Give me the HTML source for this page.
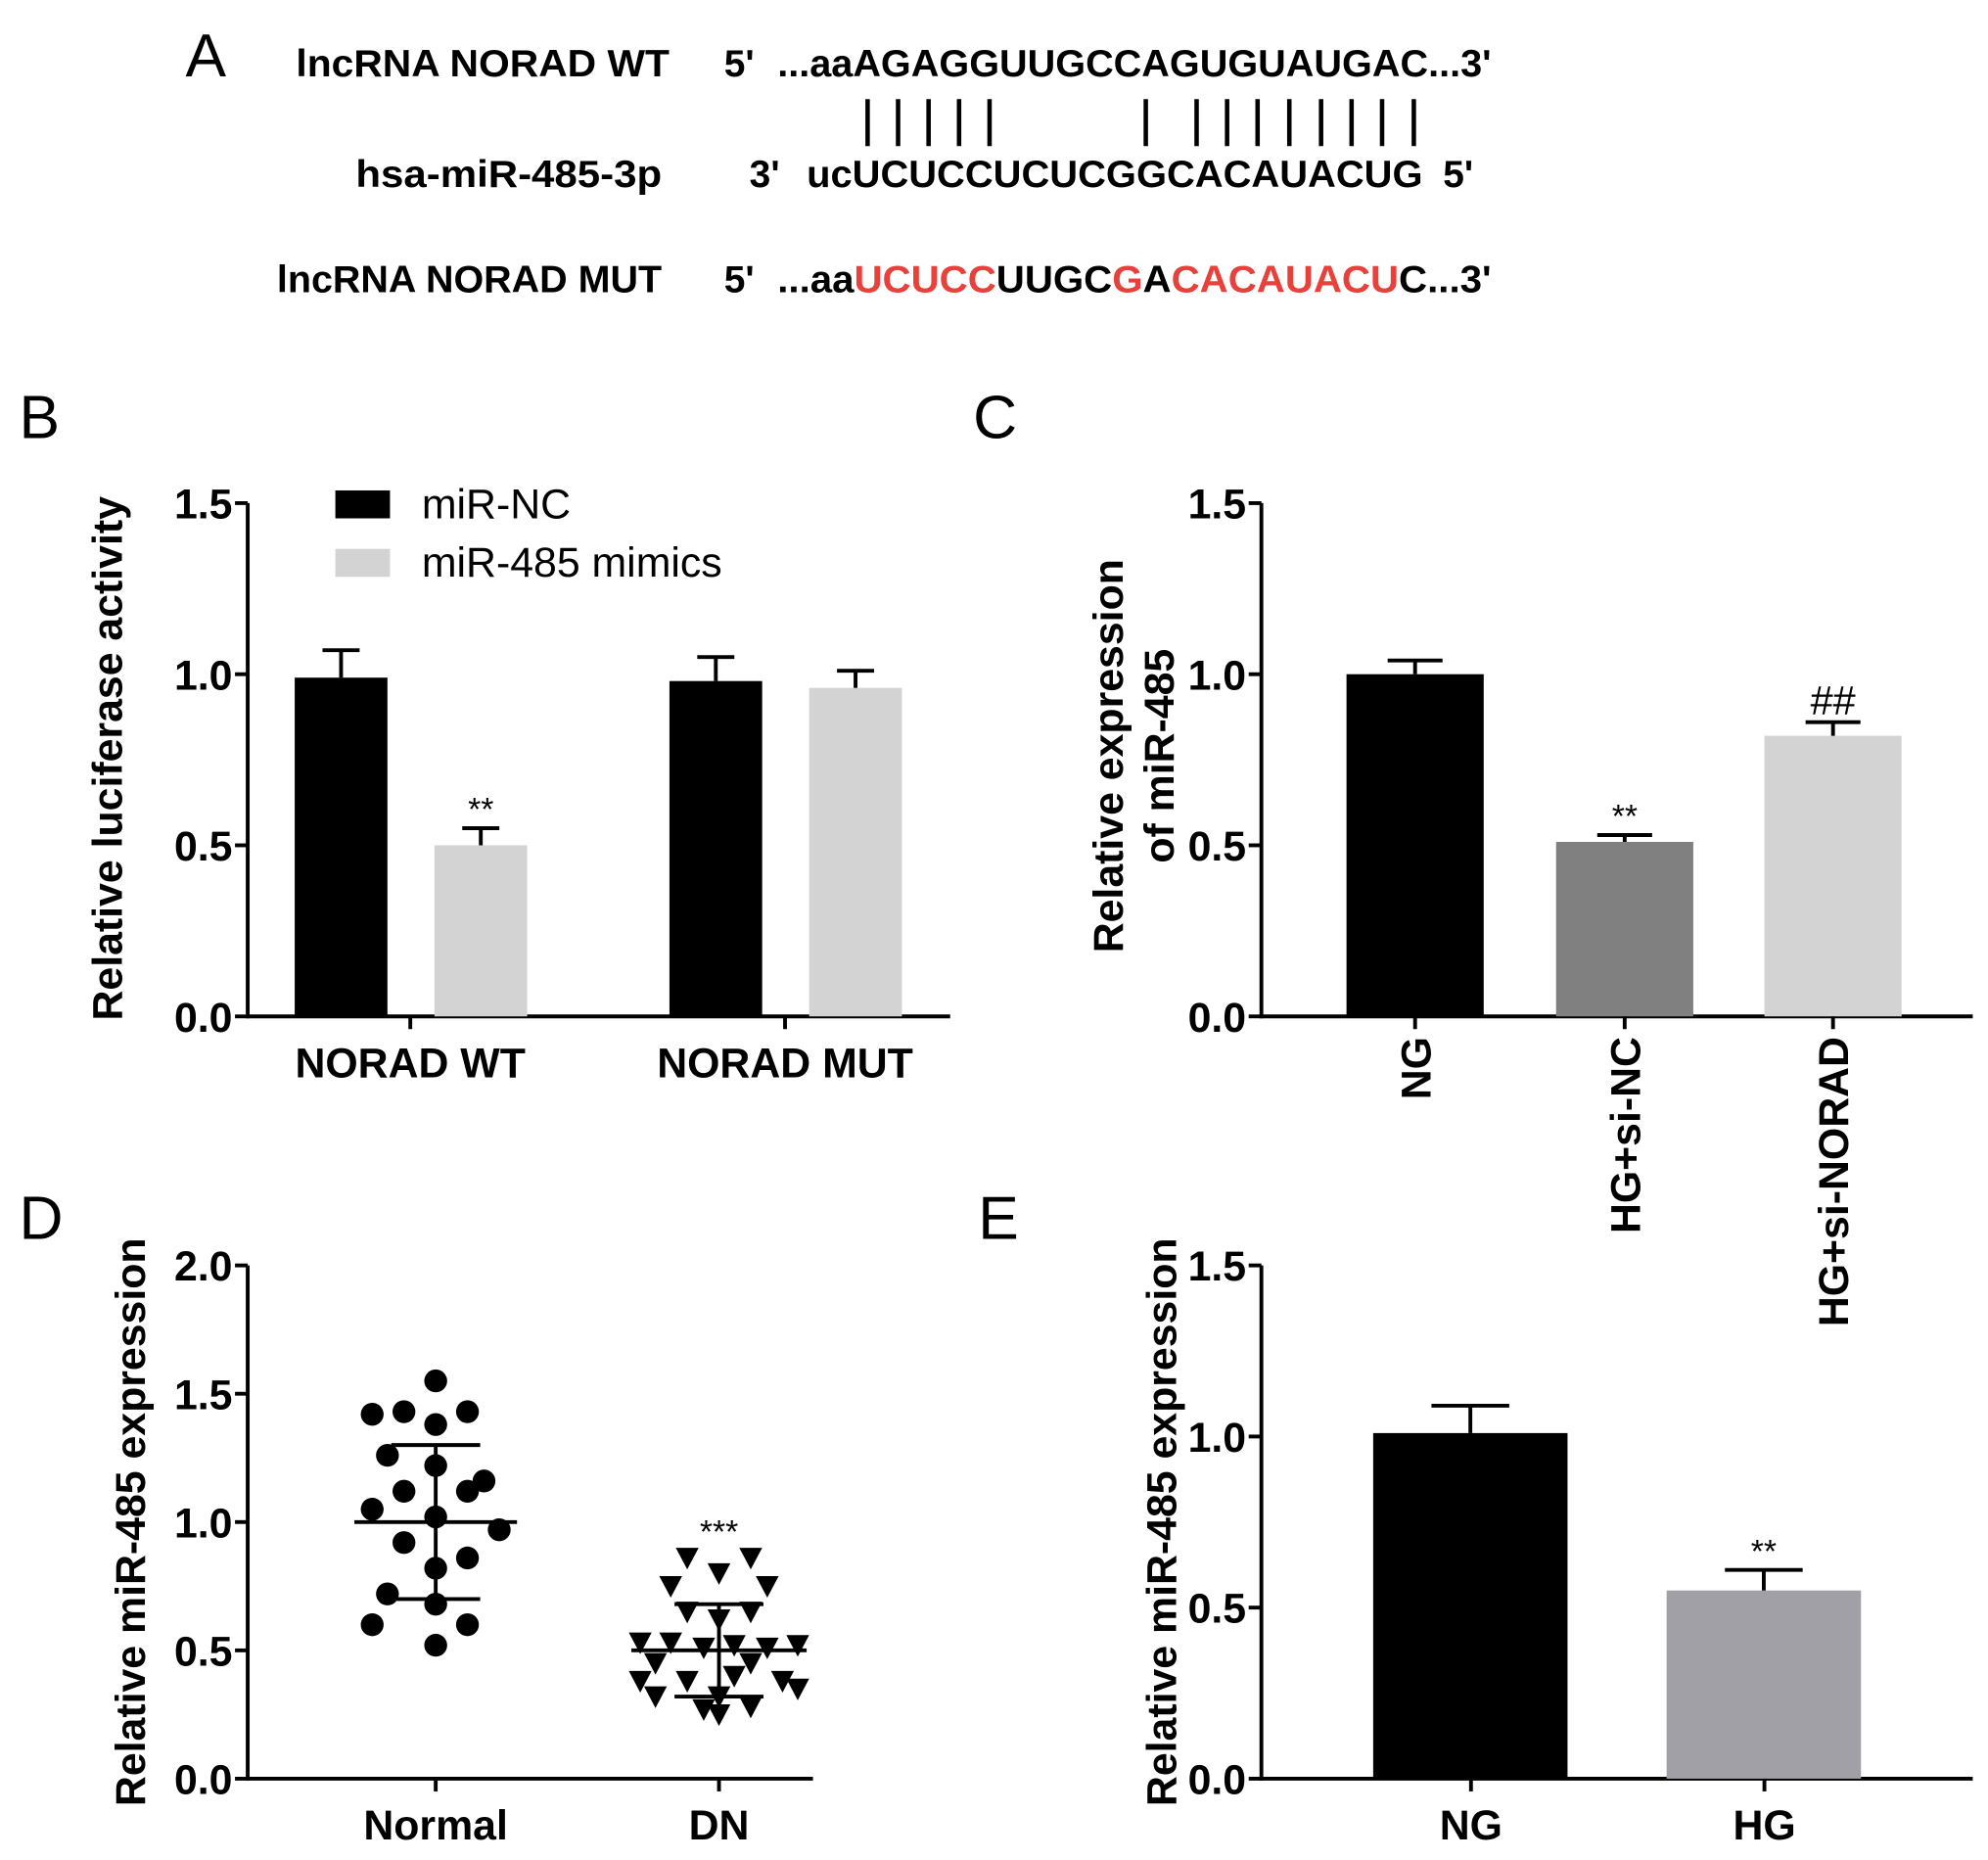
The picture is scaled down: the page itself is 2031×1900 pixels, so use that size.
<!DOCTYPE html>
<html><head><meta charset="utf-8">
<style>
html,body{margin:0;padding:0;background:#fff;}
svg{display:block;font-family:"Liberation Sans",Arial,sans-serif;}
</style></head>
<body>
<svg id="fig" width="2031" height="1900" viewBox="0 0 1565 1464" preserveAspectRatio="none">
<g font-size="30" font-weight="bold">
<text x="146" y="60" font-size="48" font-weight="normal">A</text>
<text x="233" y="60" textLength="294" lengthAdjust="spacingAndGlyphs">lncRNA  NORAD WT</text>
<text x="570" y="60">5'</text>
<text x="612" y="60" textLength="562" lengthAdjust="spacingAndGlyphs">...aaAGAGGUUGCCAGUGUAUGAC...3'</text>
<g id="pairs" stroke="#000" stroke-width="3.5"></g>
<text x="280" y="147" textLength="241" lengthAdjust="spacingAndGlyphs">hsa-miR-485-3p</text>
<text x="590" y="147">3'</text>
<text x="635" y="147" textLength="485" lengthAdjust="spacingAndGlyphs">ucUCUCCUCUCGGCACAUACUG</text>
<text x="1136" y="147">5'</text>
<text x="218" y="230" textLength="303" lengthAdjust="spacingAndGlyphs">lncRNA NORAD MUT</text>
<text x="570" y="230">5'</text>
<text x="612" y="230" textLength="562" lengthAdjust="spacingAndGlyphs">...aa<tspan fill="#e8413c">UCUCC</tspan>UUGC<tspan fill="#e8413c">G</tspan>A<tspan fill="#e8413c">CACAUACU</tspan>C...3'</text>
</g>
<g id="gB"></g>
<g id="gC"></g>
<g id="gD"></g>
<g id="gE"></g>
</svg>
<script>
// Panel B data
const bCategories = ["NORAD WT","NORAD MUT"];
const bNC = [0.99, 0.98];
const bNCerr = [0.08, 0.07];
const bMimics = [0.50, 0.96];
const bMimicsErr = [0.05, 0.05];
const bTicks = ["0.0","0.5","1.0","1.5"];
// Panel C data
const cCategories = ["NG","HG+si-NC","HG+si-NORAD"];
const cValues = [1.00, 0.51, 0.82];
const cErr = [0.04, 0.02, 0.04];
const cSig = ["", "**", "##"];
// Panel D data
const dCategories = ["Normal","DN"];
const dNormal = [1.55,1.43,1.43,1.42,1.38,1.26,1.22,1.16,1.12,1.12,1.05,1.02,0.97,0.92,0.86,0.82,0.72,0.68,0.60,0.60,0.52];
const dNormalJitter = [0,-25,25,-50,0,-38,0,38,-25,25,-50,0,50,-25,25,0,-38,0,-50,25,0];
const dDN = [0.86,0.86,0.80,0.75,0.75,0.65,0.65,0.62,0.53,0.53,0.51,0.52,0.51,0.52,0.45,0.45,0.38,0.38,0.40,0.38,0.32,0.32,0.35,0.27,0.28,0.25];
const dDNJitter = [-25,25,0,-38,38,-25,25,0,-62,-38,-12,12,38,62,-50,25,-62,-25,12,50,-50,0,62,-12,25,0];
const dMean = [1.00, 0.50];
const dSD = [0.30, 0.18];
const dTicks = ["0.0","0.5","1.0","1.5","2.0"];
// Panel E data
const eCategories = ["NG","HG"];
const eValues = [1.01, 0.55];
const eErr = [0.08, 0.06];
const pairXs = [683,707,731,755,779,902,942,966,990,1015,1040,1064,1088,1113];

const FS=33;
const NS="http://www.w3.org/2000/svg";
function mk(parent,tag,attrs,txt){const e=document.createElementNS(NS,tag);for(const k in attrs)e.setAttribute(k,attrs[k]);if(txt!==undefined)e.textContent=txt;parent.appendChild(e);return e;}

const pairs=document.getElementById('pairs');
pairXs.forEach(x=>{const l=mk(pairs,'line',{x1:x,x2:x,y1:78,y2:115});

});

function axes(g,x0,x1,yb,yt,max,ticks,letter,lx,ly){
  const ys=v=>yb-(v/max)*(yb-yt);
  const t=mk(g,'text',{x:lx,y:ly,'font-size':48},letter);
  
  
  const ya=mk(g,'line',{x1:x0,x2:x0,y1:yb+1.5,y2:yt,stroke:'#000','stroke-width':3});
  
  
  const xa=mk(g,'line',{x1:x0,x2:x1,y1:yb,y2:yb,stroke:'#000','stroke-width':3});
  
  
  ticks.forEach(tk=>{const v=parseFloat(tk);const y=ys(v);
    mk(g,'line',{x1:x0-10,x2:x0,y1:y,y2:y,stroke:'#000','stroke-width':3});
    const tl=mk(g,'text',{x:x0-12,y:y+12,'text-anchor':'end','font-size':FS,'font-weight':'bold'},tk);
    
    });
  return ys;
}
function bar(g,x,w,v,err,ys,fill,sig){
  const r=mk(g,'rect',{x:x,y:ys(v),width:w,height:ys(0)-ys(v),fill:fill});
  
  
  const cx=x+w/2;
  mk(g,'line',{x1:cx,x2:cx,y1:ys(v),y2:ys(v+err),stroke:'#000','stroke-width':3});
  mk(g,'line',{x1:cx-w*0.2,x2:cx+w*0.2,y1:ys(v+err),y2:ys(v+err),stroke:'#000','stroke-width':3});
  if(sig){const s=mk(g,'text',{x:cx,y:ys(v+err)-6,'text-anchor':'middle','font-size':sig==='##'?32:26},sig);
    
    }
}
function ytitle(g,x,y,txt){const t=mk(g,'text',{x:x,y:y,'text-anchor':'middle','font-size':FS,'font-weight':'bold',transform:`rotate(-90 ${x} ${y})`},txt);
  
  }

// B
(function(){const g=document.getElementById('gB');
const ys=axes(g,195,748,800,396,1.5,bTicks,'B',15,345);
const centers=[323,618];
bCategories.forEach((c,i)=>{const cx=centers[i];
  bar(g,cx-91,73,bNC[i],bNCerr[i],ys,'#000','');
  bar(g,cx+19,73,bMimics[i],bMimicsErr[i],ys,'#d3d3d3',(bMimics[i]<bNC[i]*0.7)?'**':'');
  mk(g,'line',{x1:cx,x2:cx,y1:800,y2:810,stroke:'#000','stroke-width':3});
  const l=mk(g,'text',{x:cx,y:848,'text-anchor':'middle','font-size':FS,'font-weight':'bold'},c);
  
  });
ytitle(g,96,597,'Relative luciferase activity');
const l1=mk(g,'rect',{x:264,y:386,width:43,height:22,fill:'#000'});


mk(g,'text',{x:332,y:408,'font-size':FS},'miR-NC');
const l2=mk(g,'rect',{x:264,y:432,width:43,height:22,fill:'#d3d3d3'});


mk(g,'text',{x:332,y:454,'font-size':FS},'miR-485 mimics');})();

// C
(function(){const g=document.getElementById('gC');
const ys=axes(g,993,1553,800,396,1.5,bTicks,'C',766,345);
const centers=[1114,1279,1443];const fills=['#000','#808080','#d3d3d3'];
cCategories.forEach((c,i)=>{bar(g,centers[i]-54,108,cValues[i],cErr[i],ys,fills[i],cSig[i]);
  mk(g,'line',{x1:centers[i],x2:centers[i],y1:800,y2:810,stroke:'#000','stroke-width':3});
  const x=centers[i]+12,y=816;
  const l=mk(g,'text',{x:x,y:y,'text-anchor':'end','font-size':FS,'font-weight':'bold',transform:`rotate(-90 ${x} ${y})`},c);
  
  });
ytitle(g,884,595,'Relative expression');
ytitle(g,924,595,'of miR-485');})();

// D
(function(){const g=document.getElementById('gD');
const ys=axes(g,195,640,1400,996,2.0,dTicks,'D',15,975);
const centers=[343,566];
dNormal.forEach((v,i)=>{const c=mk(g,'circle',{cx:centers[0]+dNormalJitter[i],cy:ys(v),r:9,fill:'#000'});
  
  });
dDN.forEach((v,i)=>{const x=centers[1]+dDNJitter[i],y=ys(v);
  const p=mk(g,'polygon',{points:`${x-9},${y-8} ${x+9},${y-8} ${x},${y+9}`,fill:'#000'});
  
  });
dCategories.forEach((c,i)=>{const cx=centers[i];const hw=i===0?64:69;
  mk(g,'line',{x1:cx-hw,x2:cx+hw,y1:ys(dMean[i]),y2:ys(dMean[i]),stroke:'#000','stroke-width':3});
  mk(g,'line',{x1:cx,x2:cx,y1:ys(dMean[i]-dSD[i]),y2:ys(dMean[i]+dSD[i]),stroke:'#000','stroke-width':3});
  [1,-1].forEach(s=>mk(g,'line',{x1:cx-35,x2:cx+35,y1:ys(dMean[i]+s*dSD[i]),y2:ys(dMean[i]+s*dSD[i]),stroke:'#000','stroke-width':3}));
  mk(g,'line',{x1:cx,x2:cx,y1:1400,y2:1410,stroke:'#000','stroke-width':3});
  const l=mk(g,'text',{x:cx,y:1448,'text-anchor':'middle','font-size':FS,'font-weight':'bold'},c);
  
  });
const s=mk(g,'text',{x:566,y:ys(Math.max(...dDN))-12,'text-anchor':'middle','font-size':26},'***');


ytitle(g,114,1198,'Relative miR-485 expression');})();

// E
(function(){const g=document.getElementById('gE');
const ys=axes(g,993,1553,1400,996,1.5,bTicks,'E',770,975);
const centers=[1158,1389];const fills=['#000','#a0a0a6'];
eCategories.forEach((c,i)=>{bar(g,centers[i]-77,153,eValues[i],eErr[i],ys,fills[i],i===1?'**':'');
  mk(g,'line',{x1:centers[i],x2:centers[i],y1:1400,y2:1410,stroke:'#000','stroke-width':3});
  const l=mk(g,'text',{x:centers[i],y:1448,'text-anchor':'middle','font-size':FS,'font-weight':'bold'},c);
  
  });
ytitle(g,926,1198,'Relative miR-485 expression');})();
</script>
</body></html>
